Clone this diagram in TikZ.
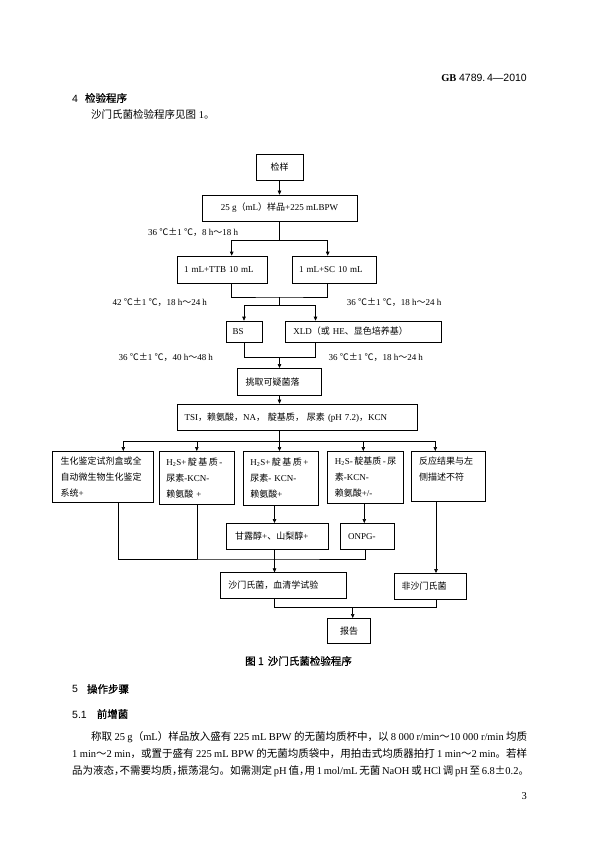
\documentclass[tikz,border=0pt]{standalone}
\usepackage{fontspec}
\setmainfont{Liberation Serif}
\newfontfamily\zhfont{Noto Sans CJK SC}
\newfontfamily\zhhei[FakeBold=1]{Noto Sans CJK SC}
\newfontfamily\hdsans{Liberation Sans}
\newcommand{\zh}[1]{{\zhfont #1}}
\newcommand{\hc}{\makebox[5.5pt][l]{\zh{，}}}
\usetikzlibrary{arrows.meta,positioning}
\tikzset{
	flowbox/.style={rectangle, draw=black, line width=0.6pt, inner sep=0pt,
		font=\fontsize{9pt}{16pt}\selectfont},
	flowarr/.style={-{Triangle[length=4pt,width=3.5pt]}, line width=0.6pt},
	flowline/.style={line width=0.6pt},
	condlbl/.style={anchor=west, inner sep=0pt, font=\fontsize{9pt}{11pt}\selectfont},
	pagetext/.style={anchor=west, inner sep=0pt, font=\fontsize{10.5pt}{12pt}\selectfont}
}

\begin{document}
\begin{tikzpicture}[x=1pt, y=-1pt]
			\useasboundingbox (0,0) rectangle (595,842);
			\node[pagetext, anchor=east] (hdr) at (527,78) {\textbf{GB} {\hdsans 4789.\,4—2010}};
			\node[pagetext] (sec4) at (72,98) {{\hdsans 4}\hspace{7pt}{\zhhei 检验程序}};
			\node[pagetext] (intro) at (91,115) {\zh{沙门氏菌检验程序见图} 1\zh{。}};
			\node[flowbox, minimum width=47pt, minimum height=26pt] (sample) at (279.5,167) {\zh{检样}};
			\node[flowbox, minimum width=155pt, minimum height=26pt] (bpw) at (279.5,208) {25 g\zh{（}mL\zh{）样品}+225 mLBPW};
			\node[flowbox, minimum width=90pt, minimum height=27pt, text width=76pt, align=left] (ttb) at (222,269.5) {1 mL+TTB 10 mL};
			\node[flowbox, minimum width=84pt, minimum height=27pt, text width=70pt, align=left] (sc) at (334,269.5) {1 mL+SC 10 mL};
			\node[flowbox, minimum width=36pt, minimum height=21pt, text width=23pt, align=left] (bs) at (244,331.5) {BS};
			\node[flowbox, minimum width=155.3pt, minimum height=21pt, text width=140pt, align=left] (xld) at (363.4,331.5) {XLD\zh{（或} HE\zh{、显色培养基）}};
			\node[flowbox, minimum width=84.4pt, minimum height=26.7pt, text width=68pt, align=left] (pick) at (279.5,381.7) {\zh{挑取可疑菌落}};
			\node[flowbox, minimum width=240pt, minimum height=26.5pt, text width=226pt, align=left] (tsi) at (297.5,417.2) {TSI\zh{，赖氨酸，}NA\zh{，} \zh{靛基质，} \zh{尿素} (pH 7.2)\zh{，}KCN};
			\node[flowbox, anchor=north, minimum width=100.6pt, minimum height=51pt, text width=85pt, align=left] (bio) at (103,451) {\zh{生化鉴定试剂盒或全}\\\zh{自动微生物生化鉴定}\\\zh{系统}+};
			\node[flowbox, anchor=north, minimum width=75pt, minimum height=53pt, text width=61pt, align=left] (grpa) at (196.8,451) {\mbox{H\textsubscript{2}S+\,\zh{靛}\,\zh{基}\,\zh{质}\,-}\\\zh{尿素}-KCN-\\\zh{赖氨酸} +};
			\node[flowbox, anchor=north, minimum width=75pt, minimum height=54pt, text width=61pt, align=left] (grpb) at (280.9,451) {\mbox{H\textsubscript{2}S+\,\zh{靛}\,\zh{基}\,\zh{质}\,+}\\\zh{尿素}- KCN-\\\zh{赖氨酸}+};
			\node[flowbox, anchor=north, minimum width=75.5pt, minimum height=52pt, text width=61pt, align=left] (grpc) at (365.3,451) {\mbox{H\textsubscript{2}S-\,\zh{靛基质}\,-\,\zh{尿}}\\\zh{素}-KCN-\\\zh{赖氨酸}+/-};
			\node[flowbox, anchor=north, minimum width=74pt, minimum height=50pt, text width=58pt, align=left] (nomatch) at (448,451) {\zh{反应结果与左}\\\zh{侧描述不符}\\~};
			\node[flowbox, minimum width=102.3pt, minimum height=25.7pt, text width=84pt, align=left] (mannit) at (277.2,536.2) {\zh{甘露醇}+\zh{、山梨醇}+};
			\node[flowbox, minimum width=53.6pt, minimum height=25.7pt, text width=38.6pt, align=left] (onpg) at (367.5,536.2) {ONPG-};
			\node[flowbox, minimum width=126.7pt, minimum height=25.6pt, text width=110pt, align=left] (salm) at (283.4,585.5) {\zh{沙门氏菌，血清学试验}};
			\node[flowbox, minimum width=72.4pt, minimum height=25.7pt, text width=57.6pt, align=left] (nonsalm) at (430.5,586.2) {\zh{非沙门氏菌}};
			\node[flowbox, minimum width=43pt, minimum height=25pt] (report) at (349.2,630.8) {\zh{报告}};
			\node[condlbl] (c1) at (148,232) {36 \zh{℃±}1 \zh{℃，}8 h\zh{～}18 h};
			\node[condlbl] (c2) at (112.3,302.7) {42 \zh{℃±}1 \zh{℃，}18 h\zh{～}24 h};
			\node[condlbl] (c3) at (346.7,302.7) {36 \zh{℃±}1 \zh{℃，}18 h\zh{～}24 h};
			\node[condlbl] (c4) at (118.3,357.7) {36 \zh{℃±}1 \zh{℃，}40 h\zh{～}48 h};
			\node[condlbl] (c5) at (328.3,357.7) {36 \zh{℃±}1 \zh{℃，}18 h\zh{～}24 h};
			\coordinate (split1) at (279.5,240.7);
			\coordinate (join1) at (279.5,297);
			\coordinate (split2) at (279.5,305.7);
			\coordinate (join2) at (279.5,357.3);
			\coordinate (split3) at (279.5,441.7);
			\coordinate (join3) at (274.5,559);
			\coordinate (join4) at (352.7,607.7);
			\draw[flowarr] (sample.south)--(bpw.north);
			\draw[flowline] (bpw.south)--(split1);
			\draw[flowarr] (split1)-|([xshift=9.7pt]ttb.north);
			\draw[flowarr] (split1)-|([xshift=-6.3pt]sc.north);
			\draw[flowline] ([xshift=9.7pt]ttb.south)|-(join1)-|([xshift=-6.3pt]sc.south);
			\draw[flowline] (join1)--(split2);
			\draw[flowarr] (split2)-|(bs.north);
			\draw[flowarr] (split2)-|([xshift=-47.9pt]xld.north);
			\draw[flowline] (bs.south)|-(join2)-|([xshift=-47.9pt]xld.south);
			\draw[flowarr] (join2)--(pick.north);
			\draw[flowarr] (pick.south)--(pick.south|-tsi.north);
			\draw[flowline] (tsi.south-|split3)--(split3);
			\draw[flowarr] (split3)-|([xshift=20.3pt]bio.north);
			\draw[flowarr] (split3)-|(grpa.north);
			\draw[flowarr] (split3)--(split3|-grpb.north);
			\draw[flowarr] (split3)-|([xshift=-2pt]grpc.north);
			\draw[flowarr] (split3)-|([xshift=-12.7pt]nomatch.north);
			\draw[flowline] ([xshift=15.3pt]bio.south)|-(join3)-|([xshift=-2.5pt]onpg.south);
			\draw[flowline] (grpa.south)--(grpa.south|-join3);
			\draw[flowarr] ([xshift=-6.4pt]grpb.south)--([xshift=-2.7pt]mannit.north);
			\draw[flowarr] ([xshift=-1pt]grpc.south)--([xshift=-3.2pt]onpg.north);
			\draw[flowarr] ([xshift=-2.7pt]mannit.south)--([xshift=-8.9pt]salm.north);
			\draw[flowarr] ([xshift=-12pt]nomatch.south)--([xshift=5.5pt]nonsalm.north);
			\draw[flowline] ([xshift=-8.9pt]salm.south)|-(join4)-|([xshift=5.5pt]nonsalm.south);
			\draw[flowarr] (join4)--(join4|-report.north);
			\node[pagetext, anchor=center] (cap) at (298.5,661) {\zhhei 图 1\hspace{4pt}沙门氏菌检验程序};
			\node[pagetext] (sec5) at (72,689) {{\hdsans 5}\hspace{9pt}{\zhhei 操作步骤}};
			\node[pagetext] (sec51) at (72,714) {{\hdsans 5.1}\hspace{10pt}{\zhhei 前增菌}};
			\node[pagetext] (para1) at (91,737) {\makebox[436pt][s]{\zh{称取} 25 g\zh{（}mL\zh{）样品放入盛有} 225 mL BPW \zh{的无菌均质杯中，以} 8 000 r/min\zh{～}10 000 r/min \zh{均质}}};
			\node[pagetext] (para2) at (72,754) {\makebox[455pt][s]{1 min\zh{～}2 min\zh{，或置于盛有} 225 mL BPW \zh{的无菌均质袋中，用拍击式均质器拍打} 1 min\zh{～}2 min\zh{。若样}}};
			\node[pagetext] (para3) at (72,771) {\makebox[455pt][s]{\zh{品为液态}\hc\zh{不需要均质}\hc\zh{振荡混匀。如需测定} pH \zh{值}\hc\zh{用} 1 mol/mL \zh{无菌} NaOH \zh{或} HCl \zh{调} pH \zh{至} 6.8\zh{±}0.2\zh{。}}};
			\node[pagetext, anchor=east] (pageno) at (527,796) {3};
		\end{tikzpicture}
\end{document}
